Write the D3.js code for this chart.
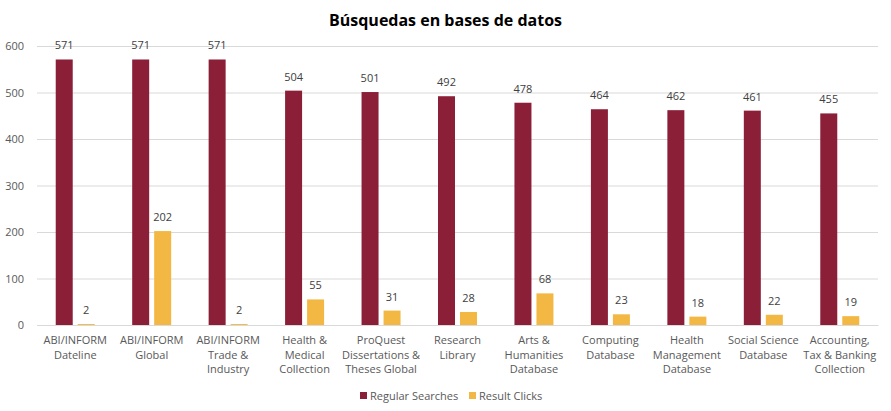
<!DOCTYPE html>
<html><head><meta charset="utf-8">
<script src="https://cdn.jsdelivr.net/npm/d3@7"></script>
<style>body{margin:0;background:#fff}text{font-family:"Open Sans","Noto Sans",sans-serif}</style>
</head><body><svg id="c" width="891" height="411"></svg>
<script>
const categories = [
  ["ABI/INFORM","Dateline"],
  ["ABI/INFORM","Global"],
  ["ABI/INFORM","Trade &","Industry"],
  ["Health &","Medical","Collection"],
  ["ProQuest","Dissertations &","Theses Global"],
  ["Research","Library"],
  ["Arts &","Humanities","Database"],
  ["Computing","Database"],
  ["Health","Management","Database"],
  ["Social Science","Database"],
  ["Accounting,","Tax & Banking","Collection"]
];
const regularSearches = [571,571,571,504,501,492,478,464,462,461,455];
const resultClicks = [2,202,2,55,31,28,68,23,18,22,19];
const seriesNames = ["Regular Searches","Result Clicks"];
const seriesColors = ["#8B1F37","#F2B843"];
const yTicks = [0,100,200,300,400,500,600];

const svg = d3.select("#c");
const m = {l:37, r:13, t:46, b:86};
const W = 891, H = 411;
const x = d3.scaleBand().domain(d3.range(categories.length)).range([m.l, W-m.r]).padding(0);
const y = d3.scaleLinear().domain([0,600]).range([H-m.b, m.t]);
const bw = 17, gap = 5;

svg.append("text").attr("x",W/2).attr("y",26).attr("text-anchor","middle")
  .attr("font-size",16).attr("font-weight","bold").attr("fill","#000").text("Búsquedas en bases de datos");

const ya = svg.append("g").attr("transform",`translate(${m.l},0)`)
  .call(d3.axisLeft(y).tickValues(yTicks).tickSize(-(W-m.l-m.r)).tickPadding(13));
ya.select(".domain").remove();
ya.selectAll(".tick line").attr("stroke","#d9d9d9");
ya.selectAll(".tick text").attr("fill","#595959").attr("font-size",11).attr("font-family","Open Sans");

const xa = svg.append("g").attr("transform",`translate(0,${y(0)})`)
  .call(d3.axisBottom(x).tickSize(0).tickFormat(""));
xa.select(".domain").attr("stroke","#d9d9d9");
xa.selectAll(".tick").each(function(d){
  const t = d3.select(this).append("text").attr("fill","#595959").attr("font-size",11)
    .attr("text-anchor","middle").attr("y",19);
  categories[d].forEach((s,i)=>t.append("tspan").attr("x",0).attr("dy",i?14.5:0).text(s));
});

const series = [regularSearches, resultClicks];
series.forEach((vals,si)=>{
  const g = svg.append("g");
  const xo = i => x(i)+x.bandwidth()/2 + (si===0 ? -gap/2-bw : gap/2);
  g.selectAll("rect").data(vals).join("rect")
    .attr("x",(d,i)=>xo(i)).attr("width",bw)
    .attr("y",d=>y(d)).attr("height",d=>y(0)-y(d)).attr("fill",seriesColors[si]);
  g.selectAll("text").data(vals).join("text")
    .attr("x",(d,i)=>xo(i)+bw/2).attr("y",d=>y(d)-10)
    .attr("text-anchor","middle").attr("font-size",11).attr("fill","#404040").text(d=>d);
});

const lg = svg.append("g").attr("transform","translate(0,396)");
const lx = [360,469];
seriesNames.forEach((n,i)=>{
  lg.append("rect").attr("x",lx[i]).attr("y",-4).attr("width",7).attr("height",7).attr("fill",seriesColors[i]);
  lg.append("text").attr("x",lx[i]+10).attr("y",4).attr("font-size",11).attr("fill","#595959").text(n);
});
</script></body></html>
